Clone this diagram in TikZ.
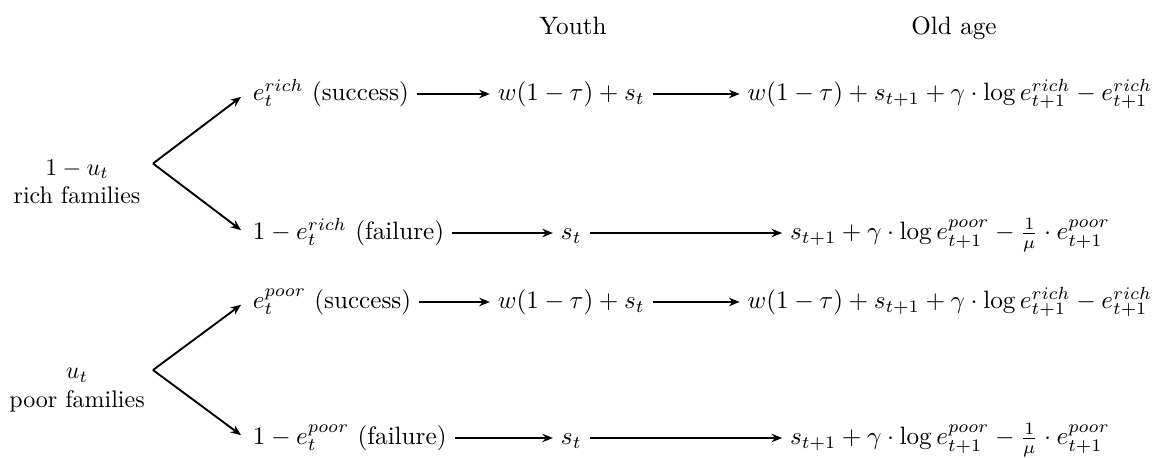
\documentclass[tikz,border=0pt]{standalone}
\usepackage{tikz}
\usetikzlibrary{arrows.meta}
\tikzset{
  lbl/.style={scale=1.07,inner sep=3pt,text height=1.8ex,text depth=0.6ex},
  grp/.style={scale=1.02,align=center,inner sep=2pt},
  head/.style={scale=1.07,anchor=base,inner sep=0pt},
  flow/.style={-{Stealth[length=4.5pt,width=3.6pt]},thick},
}
% one outcome row: name, y, branch text, youth text, old-age text
\newcommand{\outcome}[5]{%
  \node[lbl,anchor=west] (#1a) at (3.66,-#2) {#3};
  \node[lbl] (#1b) at (8.54,-#2) {#4};
  \node[lbl] (#1c) at (14.20,-#2) {#5};
  \draw[flow] (#1a) -- (#1b);
  \draw[flow] (#1b) -- (#1c);}

\begin{document}
\begin{tikzpicture}
\useasboundingbox (0,0) rectangle (17.31,-6.846);
\node[head] (youth) at (8.565,-0.523) {Youth};
\node[head] (old) at (14.26,-0.523) {Old age};
% rich families
\node[grp] (rich) at (1.151,-2.72) {$1-u_t$\\rich families};
\coordinate (rfork) at (2.287,-2.444);
\outcome{rs}{1.405}{$e_t^{rich}$ (success)}{$w(1-\tau)+s_t$}{$w(1-\tau)+s_{t+1}+\gamma\cdot\log e_{t+1}^{rich}-e_{t+1}^{rich}$}
\outcome{rf}{3.483}{$1-e_t^{rich}$ (failure)}{$s_t$}{$s_{t+1}+\gamma\cdot\log e_{t+1}^{poor}-\frac{1}{\mu}\cdot e_{t+1}^{poor}$}
\draw[flow,shorten >=2pt] (rfork) -- (rsa.west);
\draw[flow,shorten >=2pt] (rfork) -- (rfa.west);
% poor families
\node[grp] (poor) at (1.151,-5.83) {$u_t$\\poor families};
\coordinate (pfork) at (2.287,-5.531);
\outcome{ps}{4.514}{$e_t^{poor}$ (success)}{$w(1-\tau)+s_t$}{$w(1-\tau)+s_{t+1}+\gamma\cdot\log e_{t+1}^{rich}-e_{t+1}^{rich}$}
\outcome{pf}{6.547}{$1-e_t^{poor}$ (failure)}{$s_t$}{$s_{t+1}+\gamma\cdot\log e_{t+1}^{poor}-\frac{1}{\mu}\cdot e_{t+1}^{poor}$}
\draw[flow,shorten >=2pt] (pfork) -- (psa.west);
\draw[flow,shorten >=2pt] (pfork) -- (pfa.west);
\end{tikzpicture}
\end{document}
